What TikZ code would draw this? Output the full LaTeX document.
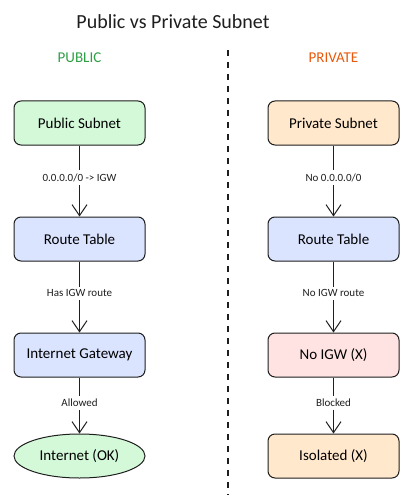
\documentclass[tikz,border=0pt]{standalone}
\usepackage{fontspec}
\setmainfont{Carlito}
\usetikzlibrary{arrows.meta,positioning,shapes.geometric}
\definecolor{ink}{HTML}{1E1E1E}
\definecolor{greenwash}{HTML}{D3F9D8}
\definecolor{bluewash}{HTML}{DBE4FF}
\definecolor{orangewash}{HTML}{FFE8CC}
\definecolor{redwash}{HTML}{FFE3E3}
\definecolor{pubgreen}{HTML}{2F9E44}
\definecolor{privorange}{HTML}{E8590C}
\tikzset{
box/.style={draw=ink,fill=bluewash,rounded corners=7pt,align=center,font=\fontsize{15}{17}\selectfont,line width=1pt,minimum width=131pt,minimum height=44pt,inner sep=2pt},
pubbox/.style={box,fill=greenwash},
privbox/.style={box,fill=orangewash},
denybox/.style={box,fill=redwash},
oval/.style={box,ellipse,fill=greenwash,rounded corners=0pt},
flow/.style={-{Straight Barb[length=11pt,width=15pt,line width=1pt]},line width=1pt,draw=ink},
edge label/.style={font=\fontsize{11}{13}\selectfont,fill=white,text=ink,inner sep=3pt},
side/.style={font=\fontsize{15}{17}\selectfont}}
\begin{document}
\begin{tikzpicture}[x=1pt,y=-1pt]
\useasboundingbox (0,0) rectangle (413,500);
\node[font=\fontsize{20}{24}\selectfont,text=ink] (title) at (173,22) {Public vs Private Subnet};
\node[side,text=pubgreen] (pubhead) at (79.5,58) {PUBLIC};
\node[side,text=privorange] (privhead) at (333.5,58) {PRIVATE};
\draw[ink,line width=1.1pt,dash pattern=on 6pt off 6pt] (228,50)--(228,495);
% public side
\node[pubbox] (pubsub) at (79.5,123) {Public Subnet};
\node[box] (pubrt) at (79.5,239) {Route Table};
\node[box] (igw) at (79.5,355) {Internet Gateway};
\node[oval,minimum width=131pt,minimum height=44pt] (inet) at (79.5,456) {Internet (OK)};
\draw[flow] (pubsub)--node[edge label,pos=.45]{0.0.0.0/0 -> IGW}(pubrt);
\draw[flow] (pubrt)--node[edge label,pos=.45]{Has IGW route}(igw);
\draw[flow] (igw)--node[edge label,pos=.45]{Allowed}(inet);
% private side
\node[privbox] (privsub) at (333.5,123) {Private Subnet};
\node[box] (privrt) at (333.5,239) {Route Table};
\node[denybox] (noigw) at (333.5,355) {No IGW (X)};
\node[privbox] (isolated) at (333.5,456) {Isolated (X)};
\draw[flow] (privsub)--node[edge label,pos=.45]{No 0.0.0.0/0}(privrt);
\draw[flow] (privrt)--node[edge label,pos=.45]{No IGW route}(noigw);
\draw[flow] (noigw)--node[edge label,pos=.45]{Blocked}(isolated);
\end{tikzpicture}
\end{document}
